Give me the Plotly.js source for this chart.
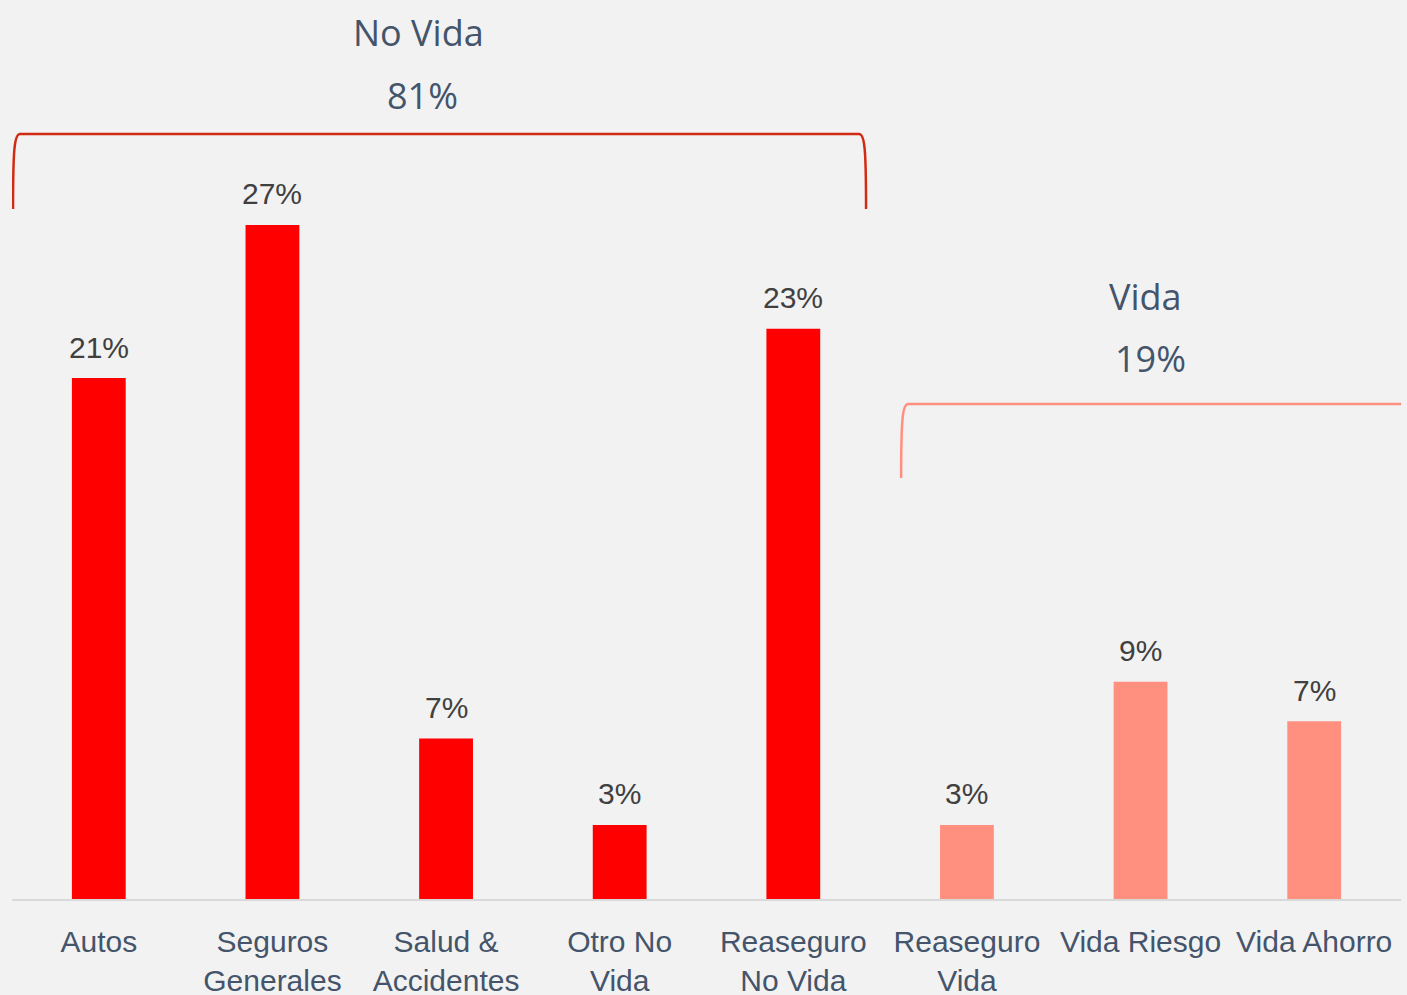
<!DOCTYPE html>
<html>
<head>
<meta charset="utf-8">
<script src="https://cdn.plot.ly/plotly-3.0.1.min.js"></script>
<style>html,body{margin:0;padding:0;background:#f2f2f2;}#chart{width:1407px;height:995px;}</style>
</head>
<body>
<div id="chart"></div>
<script>
// Data
const categories = ["Autos", "Seguros<br>Generales", "Salud &<br>Accidentes", "Otro No<br>Vida", "Reaseguro<br>No Vida", "Reaseguro<br>Vida", "Vida Riesgo", "Vida Ahorro"];
const shares = [21.1, 27.3, 6.5, 3.0, 23.1, 3.0, 8.8, 7.2];
const shareLabels = ["21%", "27%", "7%", "3%", "23%", "3%", "9%", "7%"];
const groups = ["No Vida", "No Vida", "No Vida", "No Vida", "No Vida", "Vida", "Vida", "Vida"];
const groupNames = ["No Vida", "Vida"];
const groupTotals = ["81%", "19%"];

const groupColors = {"No Vida": "#FF0000", "Vida": "#FF9080"};
const bracketColors = {"No Vida": "#D22B14", "Vida": "#FF9080"};

const xs = categories.map((c, i) => i);

const trace = {
  type: "bar",
  x: xs,
  y: shares,
  marker: {color: groups.map(g => groupColors[g])},
  hoverinfo: "skip"
};

// Bracket geometry (in axis units)
function bracketPath(x0, x1, yTop, yBot, open) {
  const dx = 0.04, dy = 0.6;
  let p = `M ${x0},${yBot} C ${x0},${yTop - dy} ${x0 + 0.008},${yTop} ${x0 + dx},${yTop} L ${x1 - (open ? 0 : dx)},${yTop}`;
  if (!open) p += ` C ${x1 - 0.008},${yTop} ${x1},${yTop - dy} ${x1},${yBot}`;
  return p;
}

const shapes = [
  {type: "path", xref: "x", yref: "y", path: bracketPath(-0.494, 4.419, 30.98, 27.95, false),
   line: {color: bracketColors["No Vida"], width: 2.5}},
  {type: "path", xref: "x", yref: "y", path: bracketPath(4.621, 7.6, 20.05, 17.05, true),
   line: {color: bracketColors["Vida"], width: 2.5}}
];

const titleFont = {family: "Open Sans, sans-serif", size: 36, color: "#44546A"};
const groupAnnotations = [
  {x: 1.84, y: 35.11, text: groupNames[0], font: titleFont},
  {x: 1.862, y: 32.56, text: groupTotals[0], font: titleFont},
  {x: 6.03, y: 24.42, text: groupNames[1], font: titleFont},
  {x: 6.06, y: 21.91, text: groupTotals[1], font: titleFont}
].map(a => Object.assign({xref: "x", yref: "y", showarrow: false, xanchor: "center", yanchor: "middle"}, a));

const valueAnnotations = xs.map((x, i) => ({
  xref: "x", yref: "y", x: x, y: shares[i], text: shareLabels[i],
  showarrow: false, xanchor: "center", yanchor: "middle", yshift: 31,
  font: {family: "Liberation Sans, Arial, sans-serif", size: 30, color: "#404040"}
}));

const layout = {
  width: 1407, height: 995,
  margin: {l: 12, r: 6, t: 0, b: 96},
  paper_bgcolor: "#f2f2f2",
  plot_bgcolor: "#f2f2f2",
  showlegend: false,
  bargap: 0.69,
  xaxis: {
    type: "linear",
    range: [-0.5, 7.5],
    tickvals: xs,
    ticktext: categories,
    showgrid: false, zeroline: false,
    showline: true, linecolor: "#D9D9D9", linewidth: 1.5,
    ticks: "",
    ticklabelstandoff: 15,
    tickfont: {family: "Liberation Sans, Arial, sans-serif", size: 30, color: "#44546A"},
    fixedrange: true
  },
  yaxis: {
    range: [0, 36.41],
    visible: false,
    showgrid: false, zeroline: false,
    fixedrange: true
  },
  shapes: shapes,
  annotations: groupAnnotations.concat(valueAnnotations)
};

Plotly.newPlot("chart", [trace], layout, {displayModeBar: false, staticPlot: true});
</script>
</body>
</html>
